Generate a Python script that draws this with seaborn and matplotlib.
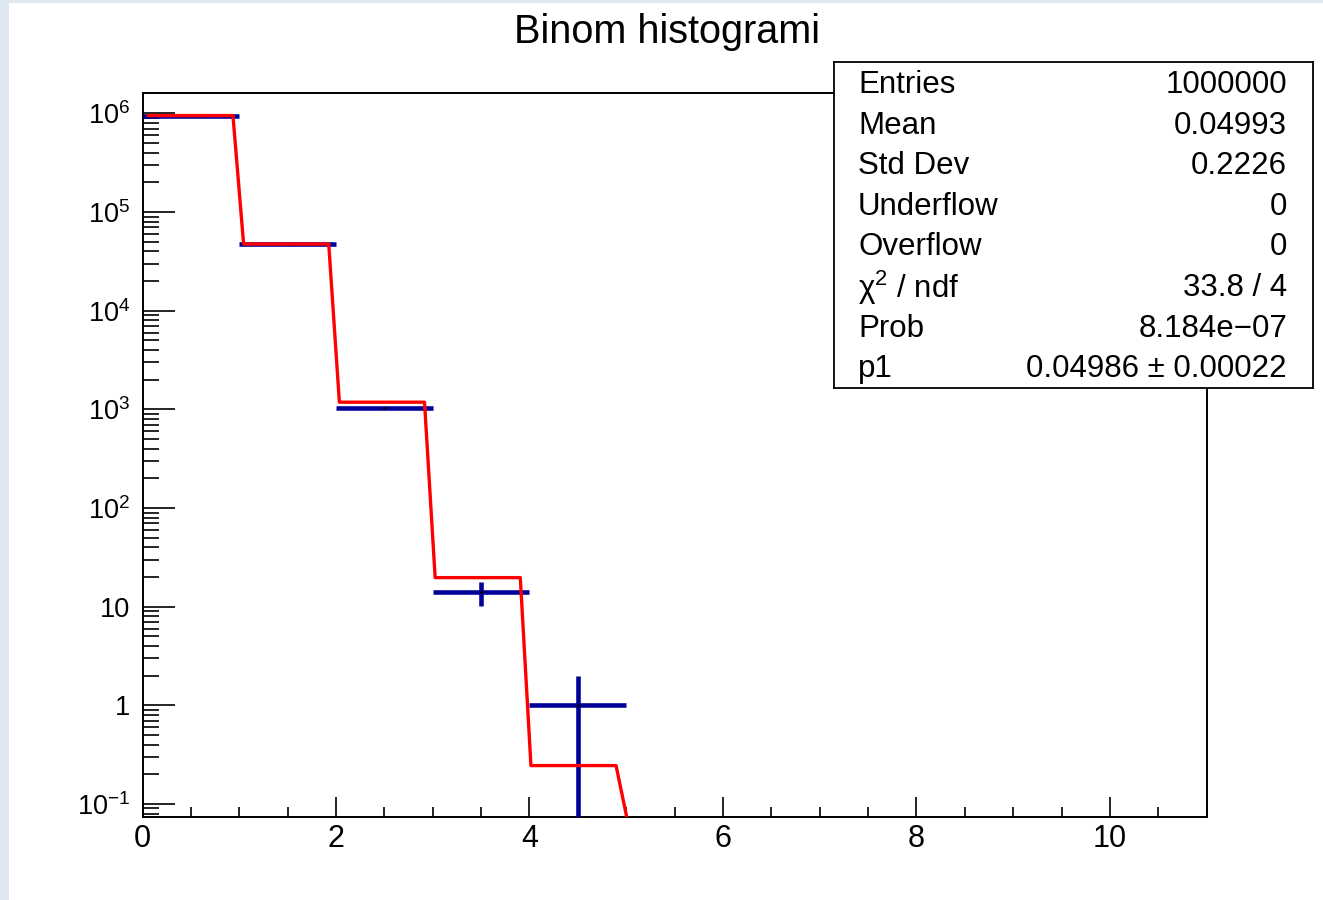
import numpy as np
import matplotlib
matplotlib.use("Agg")
import matplotlib.pyplot as plt
from matplotlib.patches import Rectangle
from matplotlib.ticker import FixedLocator, MultipleLocator, LogLocator, NullFormatter
import seaborn as sns
import pandas as pd

# ---- histogram contents (bins of width 1 starting at 0) ----
bin_edges_low = [0, 1, 2, 3, 4]
bin_counts = [951131, 47824, 1030, 14, 1]

# ---- fitted curve level in each unit bin ----
fit_counts = [951370, 47440, 1183, 19.7, 0.245]

# ---- axis setup ----
x_range = (0, 11)
y_range = (0.0738, 1.6e6)
x_major = [0, 2, 4, 6, 8, 10]
x_labels = ["0", "2", "4", "6", "8", "10"]
y_major = [0.1, 1, 10, 100, 1e3, 1e4, 1e5, 1e6]
y_labels = [r"$\mathregular{10^{-1}}$", "1", "10", r"$\mathregular{10^{2}}$",
            r"$\mathregular{10^{3}}$", r"$\mathregular{10^{4}}$",
            r"$\mathregular{10^{5}}$", r"$\mathregular{10^{6}}$"]

title = "Binom histogrami"

# ---- statistics box ----
stat_names = ["Entries", "Mean", "Std Dev", "Underflow", "Overflow",
              r"χ$^{2}$ / ndf", "Prob", "p1"]
stat_values = ["1000000", "0.04993", "0.2226", "0", "0",
               "33.8 / 4", "8.184e\u221207", "0.04986 \u00b1 0.00022"]

sns.set_style("white")
plt.rcParams["font.family"] = ["Liberation Sans", "DejaVu Sans"]
plt.rcParams["mathtext.fontset"] = "custom"
plt.rcParams["mathtext.rm"] = "Liberation Sans"
plt.rcParams["mathtext.it"] = "Liberation Sans:italic"
plt.rcParams["mathtext.bf"] = "Liberation Sans:bold"
plt.rcParams["text.color"] = "black"
plt.rcParams["xtick.color"] = "black"
plt.rcParams["ytick.color"] = "black"
plt.rcParams["xtick.labelcolor"] = "black"
plt.rcParams["ytick.labelcolor"] = "black"

W, H = 1323, 900
fig = plt.figure(figsize=(W / 100, H / 100), dpi=100)
fig.patch.set_facecolor("#dfe7f1")
# white canvas
fig.patches.append(Rectangle((9 / W, 0), 1 - 9 / W, 1 - 3 / H,
                             transform=fig.transFigure, facecolor="white",
                             edgecolor="none", zorder=-5))

L, R, T, B = 142.5, 1206.7, 93.3, 817.0
ax = fig.add_axes([L / W, 1 - B / H, (R - L) / W, (B - T) / H])
ax.set_facecolor("white")
ax.set_yscale("log")
ax.set_xlim(*x_range)
ax.set_ylim(*y_range)

BLUE = "#000099"
RED = "#ff0000"

# histogram drawn as points with bin-width and statistical errors
centers = np.asarray(bin_edges_low, dtype=float) + 0.5
counts = np.asarray(bin_counts, dtype=float)
err = np.sqrt(counts)
err_low = np.minimum(err, counts - 1e-9)
ax.errorbar(centers, counts, xerr=0.5, yerr=[err_low, err],
            fmt="none", ecolor=BLUE, elinewidth=3.3, capsize=0, zorder=3)
ax.plot(centers, counts, linestyle="none", marker="o", markersize=1.2,
        color="black", zorder=4)

# fit function sampled on 100 points across the axis range
npx = 100
dx = (x_range[1] - x_range[0]) / npx
xs = x_range[0] + (np.arange(npx) + 0.5) * dx
k = np.floor(xs).astype(int)
n_in = int(np.sum(k < len(fit_counts)))
fit_arr = np.asarray(fit_counts, dtype=float)
curve_x = xs[:n_in + 1]
curve_y = np.append(fit_arr[k[:n_in]], y_range[0])
df_fit = pd.DataFrame({"x": curve_x, "y": curve_y})
sns.lineplot(data=df_fit, x="x", y="y", ax=ax, color=RED, linewidth=2.4,
             sort=False, estimator=None, zorder=5, legend=False)
ax.set_xlabel("")
ax.set_ylabel("")

# ticks, ROOT style: inside, left and bottom only
ax.xaxis.set_major_locator(FixedLocator(x_major))
ax.set_xticklabels(x_labels)
ax.xaxis.set_minor_locator(MultipleLocator(0.5))
ax.yaxis.set_major_locator(FixedLocator(y_major))
ax.set_yticklabels(y_labels)
ax.yaxis.set_minor_locator(LogLocator(base=10, subs=np.arange(2, 10), numticks=50))
ax.yaxis.set_minor_formatter(NullFormatter())
ax.tick_params(axis="both", which="both", direction="in", color="black",
               bottom=True, left=True, top=False, right=False)
ax.tick_params(axis="x", which="major", length=14.4, width=1.2, labelsize=22, pad=5)
ax.tick_params(axis="x", which="minor", length=7.2, width=1.2)
ax.tick_params(axis="y", which="major", length=23, width=1.2, labelsize=19.5, pad=9)
ax.tick_params(axis="y", which="minor", length=11.5, width=1.2)
for s in ax.spines.values():
    s.set_visible(True)
    s.set_color("black")
    s.set_linewidth(1.4)

# title
fig.text(667.5 / W, 1 - 43 / H, title, ha="center", va="baseline",
         fontsize=28.5, color="black")

# statistics box
bx0, by0, bx1, by1 = 834, 62.3, 1312.7, 387.7
sax = fig.add_axes([bx0 / W, 1 - by1 / H, (bx1 - bx0) / W, (by1 - by0) / H])
sax.set_facecolor("white")
sax.set_xticks([])
sax.set_yticks([])
for s in sax.spines.values():
    s.set_color("black")
    s.set_linewidth(1.3)
sax.set_zorder(10)
row0, step = 85, 40.6
for i, (nm, val) in enumerate(zip(stat_names, stat_values)):
    yc = 1 - (row0 + i * step) / H
    fig.text(858 / W, yc, nm, ha="left", va="center", fontsize=22.5, zorder=11)
    fig.text(1287 / W, yc, val, ha="right", va="center", fontsize=22.5, zorder=11)

fig.savefig("out.png", dpi=100, facecolor=fig.get_facecolor())
